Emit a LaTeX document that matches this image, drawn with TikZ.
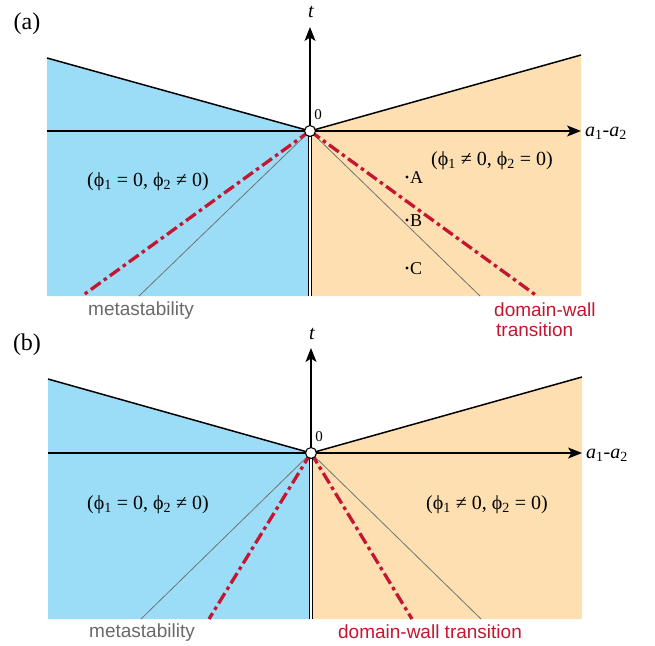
\documentclass[tikz,border=0pt]{standalone}
\usepackage{fontspec}
\setmainfont{Liberation Serif}
\newfontfamily\labsans{Liberation Sans}
\usetikzlibrary{arrows.meta}
\definecolor{bluefill}{RGB}{155,221,246}
\definecolor{orfill}{RGB}{253,223,178}
\definecolor{dwred}{RGB}{196,22,48}
\definecolor{metagray}{RGB}{105,105,105}
\tikzset{
  bluereg/.style={fill=bluefill, draw=none},
  orreg/.style={fill=orfill, draw=none},
  bound/.style={draw=black, line width=1.5pt},
  axisline/.style={draw=black, line width=1.3pt, -{Stealth[length=14pt,width=11pt,inset=3.5pt]}},
  thinline/.style={draw=black!55, line width=0.8pt},
  dwline/.style={draw=dwred, line width=3.3pt, dash pattern=on 12pt off 4pt on 3.5pt off 4pt},
  dbl/.style={draw=black, line width=1.1pt, double=white, double distance=2pt},
  origin/.style={circle, draw=black, fill=white, line width=1.1pt, minimum size=11pt, inner sep=0pt},
  phasetxt/.style={font=\fontsize{20}{22}\selectfont, inner sep=0pt},
  paneltxt/.style={font=\fontsize{24}{26}\selectfont, inner sep=0pt},
  axtxt/.style={font=\fontsize{20}{22}\selectfont\itshape, inner sep=0pt},
  zerotxt/.style={font=\fontsize{15}{17}\selectfont, inner sep=0pt},
  ptxt/.style={font=\fontsize{18}{20}\selectfont, inner sep=0pt},
  ptdot/.style={circle, fill=black, inner sep=0pt, minimum size=3.4pt},
  metatxt/.style={font=\labsans\fontsize{19}{22}\selectfont, text=metagray, inner sep=0pt},
  dwtxt/.style={font=\labsans\fontsize{19}{22}\selectfont, text=dwred, inner sep=0pt}
}
\newcommand{\phiI}{ϕ\textsubscript{1}}
\newcommand{\phiII}{ϕ\textsubscript{2}}
\begin{document}
\begin{tikzpicture}[x=1pt,y=-1pt]
\useasboundingbox (0,0) rectangle (655,645);
% ================= panel (a) =================
\coordinate (aO) at (310,131);
\coordinate (aTL) at (47,58);
\coordinate (aTR) at (581,55);
\coordinate (aBL) at (47,296);
\coordinate (aBR) at (581,296);
\coordinate (aOB) at (310,296);
\coordinate (aXL) at (47,131);
\coordinate (aXR) at (581,131);
\coordinate (aT) at (310,27);
\coordinate (aRL) at (82,296);
\coordinate (aRR) at (537,296);
\coordinate (aGL) at (139,296);
\coordinate (aGR) at (480,296);
\fill[bluereg] (aTL) -- (aO) -- (aOB) -- (aBL) -- cycle;
\fill[orreg] (aO) -- (aTR) -- (aBR) -- (aOB) -- cycle;
\draw[thinline] (aO) -- (aGL);
\draw[thinline] (aO) -- (aGR);
\draw[dwline] (aO) -- (aRL);
\draw[dwline] (aO) -- (aRR);
\draw[bound] (aTL) -- (aO) -- (aTR);
\draw[axisline] (aXL) -- (aXR);
\draw[axisline] (aO) -- (aT);
\draw[dbl] (aO) -- (aOB);
\node[origin] (aOc) at (aO) {};
\node[paneltxt] (alab) at (27,24) {(a)};
\node[axtxt] (atl) at (311,12) {t};
\node[zerotxt] (a0) at (318,115) {0};
\node[axtxt, anchor=west] (aal) at (585,133) {a\textsubscript{\upshape 1}\upshape -\itshape a\textsubscript{\upshape 2}};
\node[phasetxt] (aph1) at (148,182) {(\phiI\ = 0, \phiII\ ≠ 0)};
\node[phasetxt] (aph2) at (492,161) {(\phiI\ ≠ 0, \phiII\ = 0)};
\node[ptdot] (dA) at (407,177) {};
\node[ptdot] (dB) at (407,220) {};
\node[ptdot] (dC) at (407,268) {};
\node[ptxt, anchor=west] (lA) at (410,178) {A};
\node[ptxt, anchor=west] (lB) at (410,221) {B};
\node[ptxt, anchor=west] (lC) at (410,269) {C};
\node[metatxt] (ameta) at (141,311) {metastability};
\node[dwtxt, anchor=west] (adw1) at (494,310) {domain-wall};
\node[dwtxt, anchor=west] (adw2) at (496,330) {transition};
% ================= panel (b) =================
\coordinate (bO) at (311,453);
\coordinate (bTL) at (48,379);
\coordinate (bTR) at (582,377);
\coordinate (bBL) at (48,619);
\coordinate (bBR) at (582,619);
\coordinate (bOB) at (311,619);
\coordinate (bXL) at (48,453);
\coordinate (bXR) at (582,453);
\coordinate (bT) at (311,348);
\coordinate (bRL) at (209,619);
\coordinate (bRR) at (412,619);
\coordinate (bGL) at (141,619);
\coordinate (bGR) at (481,619);
\fill[bluereg] (bTL) -- (bO) -- (bOB) -- (bBL) -- cycle;
\fill[orreg] (bO) -- (bTR) -- (bBR) -- (bOB) -- cycle;
\draw[thinline] (bO) -- (bGL);
\draw[thinline] (bO) -- (bGR);
\draw[dwline] (bO) -- (bRL);
\draw[dwline] (bO) -- (bRR);
\draw[bound] (bTL) -- (bO) -- (bTR);
\draw[axisline] (bXL) -- (bXR);
\draw[axisline] (bO) -- (bT);
\draw[dbl] (bO) -- (bOB);
\node[origin] (bOc) at (bO) {};
\node[paneltxt] (blab) at (27,345) {(b)};
\node[axtxt] (btl) at (312,334) {t};
\node[zerotxt] (b0) at (319,437) {0};
\node[axtxt, anchor=west] (bal) at (586,455) {a\textsubscript{\upshape 1}\upshape -\itshape a\textsubscript{\upshape 2}};
\node[phasetxt] (bph1) at (148,505) {(\phiI\ = 0, \phiII\ ≠ 0)};
\node[phasetxt] (bph2) at (487,505) {(\phiI\ ≠ 0, \phiII\ = 0)};
\node[metatxt] (bmeta) at (142,633) {metastability};
\node[dwtxt] (bdw) at (430,632) {domain-wall transition};
\end{tikzpicture}
\end{document}
